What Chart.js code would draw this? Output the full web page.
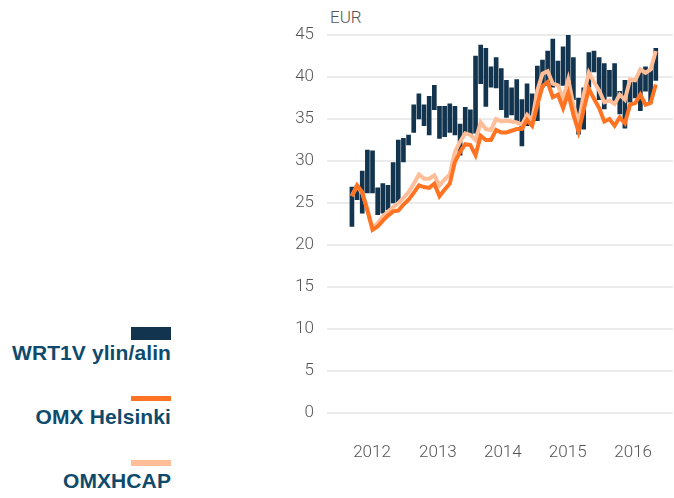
<!DOCTYPE html>
<html>
<head>
<meta charset="utf-8">
<script src="https://cdn.jsdelivr.net/npm/chart.js@4"></script>
<style>
    html, body { margin: 0; padding: 0; background: #fff; }
    body { width: 674px; height: 498px; position: relative; overflow: hidden; font-family: 'Liberation Sans', Arial, sans-serif; }
    #chartBox { position: absolute; left: 280px; top: 0; width: 394px; height: 498px; }
    .unit { position: absolute; left: 330px; top: 7px; font: 300 17px Roboto, sans-serif; color: #555; }
    .swatch { position: absolute; left: 131px; width: 40px; }
    .label { position: absolute; left: 0; width: 171px; text-align: right; font-weight: bold; font-size: 21px; line-height: 20px; letter-spacing: 0.1px; color: #0e4a6c; white-space: nowrap; }
</style>
</head>
<body>
<div class="unit">EUR</div>

<div class="swatch" style="top:327px;height:13px;background:#12344e"></div>
<div class="label" style="top:343px">WRT1V ylin/alin</div>
<div class="swatch" style="top:396px;height:5px;background:#ff7322"></div>
<div class="label" style="top:407px">OMX Helsinki</div>
<div class="swatch" style="top:460px;height:6px;background:#ffbd98"></div>
<div class="label" style="top:471px">OMXHCAP</div>

<div id="chartBox"><canvas id="priceChart"></canvas></div>

<script>
// Monthly high / low of the share (EUR)
const wrtLow = [22.2, 25.4, 23.8, 26.2, 26.2, 23.6, 23.8, 24.2, 25.0, 25.0,
    29.9, 31.9, 33.4, 35.0, 34.2, 33.1, 36.1, 32.7, 32.9, 33.4,
    33.1, 30.7, 33.3, 33.1, 33.3, 39.2, 36.5, 38.8, 38.7, 36.1,
    35.2, 35.5, 34.5, 31.8, 34.2, 34.9, 34.8, 38.8, 39.0, 38.8,
    39.0, 39.0, 39.6, 37.3, 33.2, 33.8, 38.8, 40.6, 37.3, 36.2,
    37.7, 37.1, 35.6, 33.9, 37.0, 37.5, 36.0, 38.3, 36.9, 39.6];
const wrtHigh = [26.9, 27.1, 28.8, 31.3, 31.2, 26.8, 27.3, 27.1, 29.8, 32.5,
    32.7, 33.1, 36.7, 38.0, 36.7, 37.7, 39.0, 36.5, 36.5, 36.8,
    36.5, 34.4, 36.4, 36.1, 42.5, 43.8, 43.4, 41.2, 42.3, 41.0,
    39.6, 38.7, 39.7, 37.3, 39.2, 38.0, 41.3, 42.0, 43.1, 44.5,
    41.9, 43.6, 45.0, 42.3, 37.5, 38.7, 42.9, 43.1, 42.3, 41.6,
    40.8, 41.6, 38.3, 39.6, 39.6, 39.8, 40.9, 41.2, 40.8, 43.4];

// Indices rebased to the share price
const omxHelsinki = [25.8, 27.1, 26.3, 24.1, 21.8, 22.2, 22.9, 23.5, 24.0, 24.1,
    24.8, 25.4, 26.2, 27.1, 26.9, 26.8, 27.3, 25.8, 26.6, 27.3,
    29.9, 31.1, 32.0, 31.9, 30.7, 33.0, 32.5, 32.5, 33.7, 33.4,
    33.4, 33.6, 33.8, 33.8, 34.9, 34.2, 36.7, 38.9, 39.4, 37.6,
    37.9, 36.3, 38.1, 35.5, 33.5, 36.1, 38.6, 37.4, 36.3, 34.7,
    35.0, 34.2, 35.2, 34.5, 36.7, 36.9, 37.9, 36.7, 36.9, 39.1];
const omxhcap = [25.9, 27.0, 26.2, 24.3, 22.0, 22.6, 23.4, 24.0, 24.5, 25.0,
    25.6, 26.3, 27.3, 28.4, 27.9, 27.9, 28.3, 27.1, 27.8, 28.4,
    31.1, 32.3, 33.3, 33.1, 32.5, 34.6, 33.8, 33.7, 35.0, 34.7,
    34.8, 34.7, 34.6, 34.3, 35.5, 34.9, 38.4, 40.4, 40.7, 39.2,
    39.0, 37.4, 39.7, 36.7, 34.5, 37.9, 40.5, 39.4, 38.4, 37.0,
    37.2, 36.8, 37.9, 37.3, 39.7, 39.6, 40.9, 40.5, 40.9, 43.1];

// Year labels and where they sit on the month index axis
const yearLabels = ['2012', '2013', '2014', '2015', '2016'];
const yearTicks = [3.9, 16.7, 29.3, 41.9, 54.6];

const toPoints = arr => arr.map((v, i) => ({ x: i, y: v }));

document.addEventListener('DOMContentLoaded', () => {
    const ctx = document.getElementById('priceChart');

    new Chart(ctx.getContext('2d'), {
        type: 'bar',
        data: {
            datasets: [{
                type: 'line',
                label: 'OMX Helsinki',
                data: toPoints(omxHelsinki),
                borderColor: '#ff7322',
                borderWidth: 4,
                pointRadius: 0,
                tension: 0
            }, {
                type: 'line',
                label: 'OMXHCAP',
                data: toPoints(omxhcap),
                borderColor: '#ffbd98',
                borderWidth: 4,
                pointRadius: 0,
                tension: 0
            }, {
                label: 'WRT1V ylin/alin',
                data: wrtLow.map((lo, i) => ({ x: i, y: [lo, wrtHigh[i]] })),
                backgroundColor: '#12344e',
                barThickness: 4,
                borderSkipped: false
            }]
        },
        options: {
            responsive: true,
            maintainAspectRatio: false,
            animation: false,
            layout: { padding: { top: 35, bottom: 35, right: 0, left: 0 } },
            plugins: {
                legend: { display: false },
                tooltip: { enabled: false }
            },
            scales: {
                x: {
                    type: 'linear',
                    offset: false,
                    min: -4.84,
                    max: 62.3,
                    grid: { display: false },
                    border: { display: false },
                    afterBuildTicks: scale => {
                        scale.ticks = yearTicks.map(v => ({ value: v }));
                    },
                    afterFit: scale => { scale.height = 50; },
                    ticks: {
                        padding: 22,
                        autoSkip: false,
                        maxRotation: 0,
                        color: '#555',
                        font: { family: 'Roboto', size: 17, weight: '300' },
                        callback: (value, index) => yearLabels[index]
                    }
                },
                y: {
                    min: 0,
                    max: 45,
                    grid: { color: '#ebebeb', lineWidth: 2, drawTicks: false },
                    border: { display: false },
                    afterFit: scale => { scale.width = 47; },
                    ticks: {
                        stepSize: 5,
                        padding: 13,
                        color: '#555',
                        font: { family: 'Roboto', size: 17, weight: '300' }
                    }
                }
            }
        }
    });
});
</script>
</body>
</html>
